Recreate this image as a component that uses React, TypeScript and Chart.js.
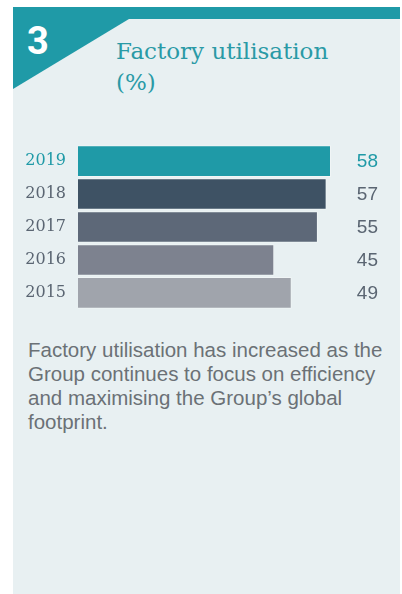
import React, { useEffect, useRef } from "react";
import { Chart, registerables } from "chart.js";

Chart.register(...registerables);

const years = ["2019", "2018", "2017", "2016", "2015"];
const utilisation = [58, 57, 55, 45, 49];
const barColors = ["#1f9aa7", "#3e5264", "#5d6878", "#7d828f", "#a0a4ac"];
const labelColors = ["#1f9aa7", "#5a6572", "#5a6572", "#5a6572", "#5a6572"];

const valuePlugin = {
  id: "valueLabels",
  afterDraw(chart: any) {
    const ctx = chart.ctx;
    const y = chart.scales.y;
    ctx.save();
    ctx.font = "19px 'Liberation Sans', Arial, sans-serif";
    ctx.textAlign = "right";
    ctx.textBaseline = "middle";
    utilisation.forEach((v, i) => {
      ctx.fillStyle = labelColors[i];
      ctx.fillText(String(v), 365, y.getPixelForValue(i) + 1);
    });
    ctx.restore();
  },
};

export default function App() {
  const ref = useRef<HTMLCanvasElement>(null);
  useEffect(() => {
    document.body.style.margin = "0";
    const chart = new Chart(ref.current!, {
      type: "bar",
      data: {
        labels: years,
        datasets: [
          {
            data: utilisation,
            backgroundColor: barColors,
            borderColor: "rgba(255,255,255,0.35)",
            borderWidth: 1,
            categoryPercentage: 1,
            barPercentage: 0.96,
          },
        ],
      },
      options: {
        indexAxis: "y",
        animation: false,
        responsive: false,
        maintainAspectRatio: false,
        layout: { padding: { top: 0, bottom: 0, left: 0, right: 69 } },
        plugins: { legend: { display: false }, tooltip: { enabled: false } },
        scales: {
          x: { display: false, min: 0, max: 58 },
          y: {
            grid: { display: false, drawTicks: false },
            border: { display: false },
            afterFit(scale: any) {
              scale.width = 65;
            },
            ticks: {
              padding: 12,
              color: (c: any) => labelColors[c.index],
              font: { family: "'DejaVu Serif', serif", size: 16 },
            },
          },
        },
      },
      plugins: [valuePlugin],
    });
    return () => chart.destroy();
  }, []);

  return (
    <div style={{ position: "relative", width: 402, height: 594, background: "#ffffff", overflow: "hidden" }}>
      <div style={{ position: "absolute", left: 13, top: 7, width: 387, height: 587, background: "#e8f0f2" }} />
      <div style={{ position: "absolute", left: 13, top: 7, width: 387, height: 12, background: "#1f9aa7" }} />
      <svg style={{ position: "absolute", left: 13, top: 19 }} width={116} height={71}>
        <polygon points="0,0 116,0 0,70" fill="#1f9aa7" />
      </svg>
      <div
        style={{
          position: "absolute",
          left: 27,
          top: 19,
          color: "#ffffff",
          font: "bold 38px Roboto, 'Liberation Sans', sans-serif",
          lineHeight: "44px",
        }}
      >
        3
      </div>
      <div
        style={{
          position: "absolute",
          left: 116,
          top: 36,
          color: "#2a9aa6",
          font: "23px 'DejaVu Serif', serif",
          lineHeight: "31px",
        }}
      >
        Factory utilisation
        <br />
        (%)
      </div>
      <canvas ref={ref} width={387} height={208} style={{ position: "absolute", left: 13, top: 123 }} />
      <div
        style={{
          position: "absolute",
          left: 28,
          top: 338,
          width: 372,
          color: "#6b7176",
          font: "20.5px 'Liberation Sans', Arial, sans-serif",
          lineHeight: "24px",
          whiteSpace: "nowrap",
        }}
      >
        Factory utilisation has increased as the
        <br />
        Group continues to focus on efficiency
        <br />
        and maximising the Group’s global
        <br />
        footprint.
      </div>
    </div>
  );
}
